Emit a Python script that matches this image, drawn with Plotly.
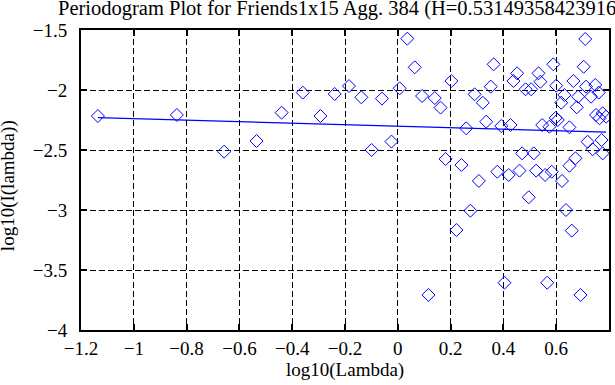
import plotly.graph_objects as go

# log10(Lambda) values (x) and log10(I(lambda)) values (y)
log_lambda = [
    -1.136, -0.837, -0.658, -0.535, -0.440, -0.360, -0.293, -0.239, -0.185, -0.138,
    -0.099, -0.060, -0.024, 0.007, 0.036, 0.064, 0.092, 0.116, 0.140, 0.162,
    0.181, 0.203, 0.222, 0.241, 0.259, 0.275, 0.291, 0.307, 0.322, 0.335,
    0.352, 0.363, 0.377, 0.392, 0.404, 0.420, 0.427, 0.438, 0.452, 0.461,
    0.471, 0.484, 0.496, 0.505, 0.515, 0.524, 0.533, 0.540, 0.547, 0.558,
    0.566, 0.574, 0.583, 0.589, 0.600, 0.606, 0.619, 0.622, 0.631, 0.637,
    0.650, 0.650, 0.659, 0.665, 0.673, 0.678, 0.683, 0.692, 0.704, 0.710,
    0.713, 0.719, 0.732, 0.738, 0.748, 0.751, 0.761, 0.764, 0.772, 0.776,
    0.776, 0.789, 0.598,
]
log_I = [
    -2.217, -2.208, -2.514, -2.425, -2.189, -2.022, -2.217, -2.033, -1.967, -2.061,
    -2.500, -2.072, -2.430, -1.986, -1.572, -1.811, -2.050, -3.708, -2.067, -2.147,
    -2.575, -1.925, -3.167, -2.625, -2.319, -3.006, -2.036, -2.758, -2.106, -2.264,
    -1.972, -1.786, -2.681, -2.300, -3.606, -2.708, -2.292, -1.925, -1.861, -2.672,
    -2.528, -1.994, -2.894, -1.994, -2.528, -2.672, -1.861, -1.931, -2.292, -2.708,
    -3.606, -2.306, -2.681, -1.786, -1.964, -2.250, -2.106, -2.758, -2.042, -3.000,
    -2.311, -2.631, -3.172, -1.925, -2.569, -2.144, -2.056, -3.708, -1.806, -1.575,
    -1.972, -2.431, -2.056, -2.494, -1.958, -2.208, -2.022, -2.236, -2.417, -2.194,
    -2.528, -2.222, -2.233,
]

H = 0.531493584239167
fit_slope = 1 - 2 * H
fit_intercept = -2.302

x_ticks = [-1.2, -1, -0.8, -0.6, -0.4, -0.2, 0, 0.2, 0.4, 0.6, 0.8]
y_ticks = [-4, -3.5, -3, -2.5, -2, -1.5]

title_text = "Periodogram Plot for Friends1x15 Agg. 384 (H=%s)" % repr(H)
x_title = "log10(Lambda)"
y_title = "log10(I(lambda))"

FONT = "Liberation Serif, Times New Roman, serif"

fit_x = [min(log_lambda), max(log_lambda)]
fit_y = [fit_intercept + fit_slope * v for v in fit_x]

fig = go.Figure()
fig.add_trace(go.Scatter(
    x=log_lambda, y=log_I, mode="markers",
    marker=dict(symbol="diamond-open", size=10, color="#0000ff",
                line=dict(width=1, color="#0000ff")),
    showlegend=False, hoverinfo="skip",
))
fig.add_trace(go.Scatter(
    x=fit_x, y=fit_y, mode="lines",
    line=dict(color="#0000ff", width=1.2),
    showlegend=False, hoverinfo="skip",
))

axis_common = dict(
    showline=True, linecolor="black", linewidth=2, mirror="allticks",
    ticks="inside", ticklen=6, tickwidth=2, tickcolor="black",
    showgrid=True, gridcolor="black", gridwidth=1, griddash="6px,3px",
    zeroline=False, automargin=False,
    tickfont=dict(family=FONT, size=19, color="black"),
)

fig.update_layout(
    width=615, height=385,
    margin=dict(l=81, r=6, t=30, b=55, autoexpand=False),
    paper_bgcolor="white", plot_bgcolor="white",
    xaxis=dict(range=[-1.2, 0.8], tickvals=x_ticks, ticklabelstandoff=0, **axis_common),
    yaxis=dict(range=[-4, -1.5], tickvals=y_ticks, ticklabelstandoff=8, **axis_common),
    annotations=[
        dict(text=title_text, xref="paper", yref="paper", x=0.5, y=1.072,
             xanchor="center", yanchor="middle", showarrow=False,
             font=dict(family=FONT, size=20.5, color="black")),
        dict(text=x_title, xref="paper", yref="paper", x=0.5, y=-0.133,
             xanchor="center", yanchor="middle", showarrow=False,
             font=dict(family=FONT, size=19, color="black")),
        dict(text=y_title, xref="paper", yref="paper", x=-0.138, y=0.48,
             xanchor="center", yanchor="middle", showarrow=False, textangle=-90,
             font=dict(family=FONT, size=19, color="black")),
    ],
)

fig.write_html(
    "out.html",
    config={"displayModeBar": False},
    post_script="document.body.style.margin='0px';document.body.style.overflow='hidden';",
)
